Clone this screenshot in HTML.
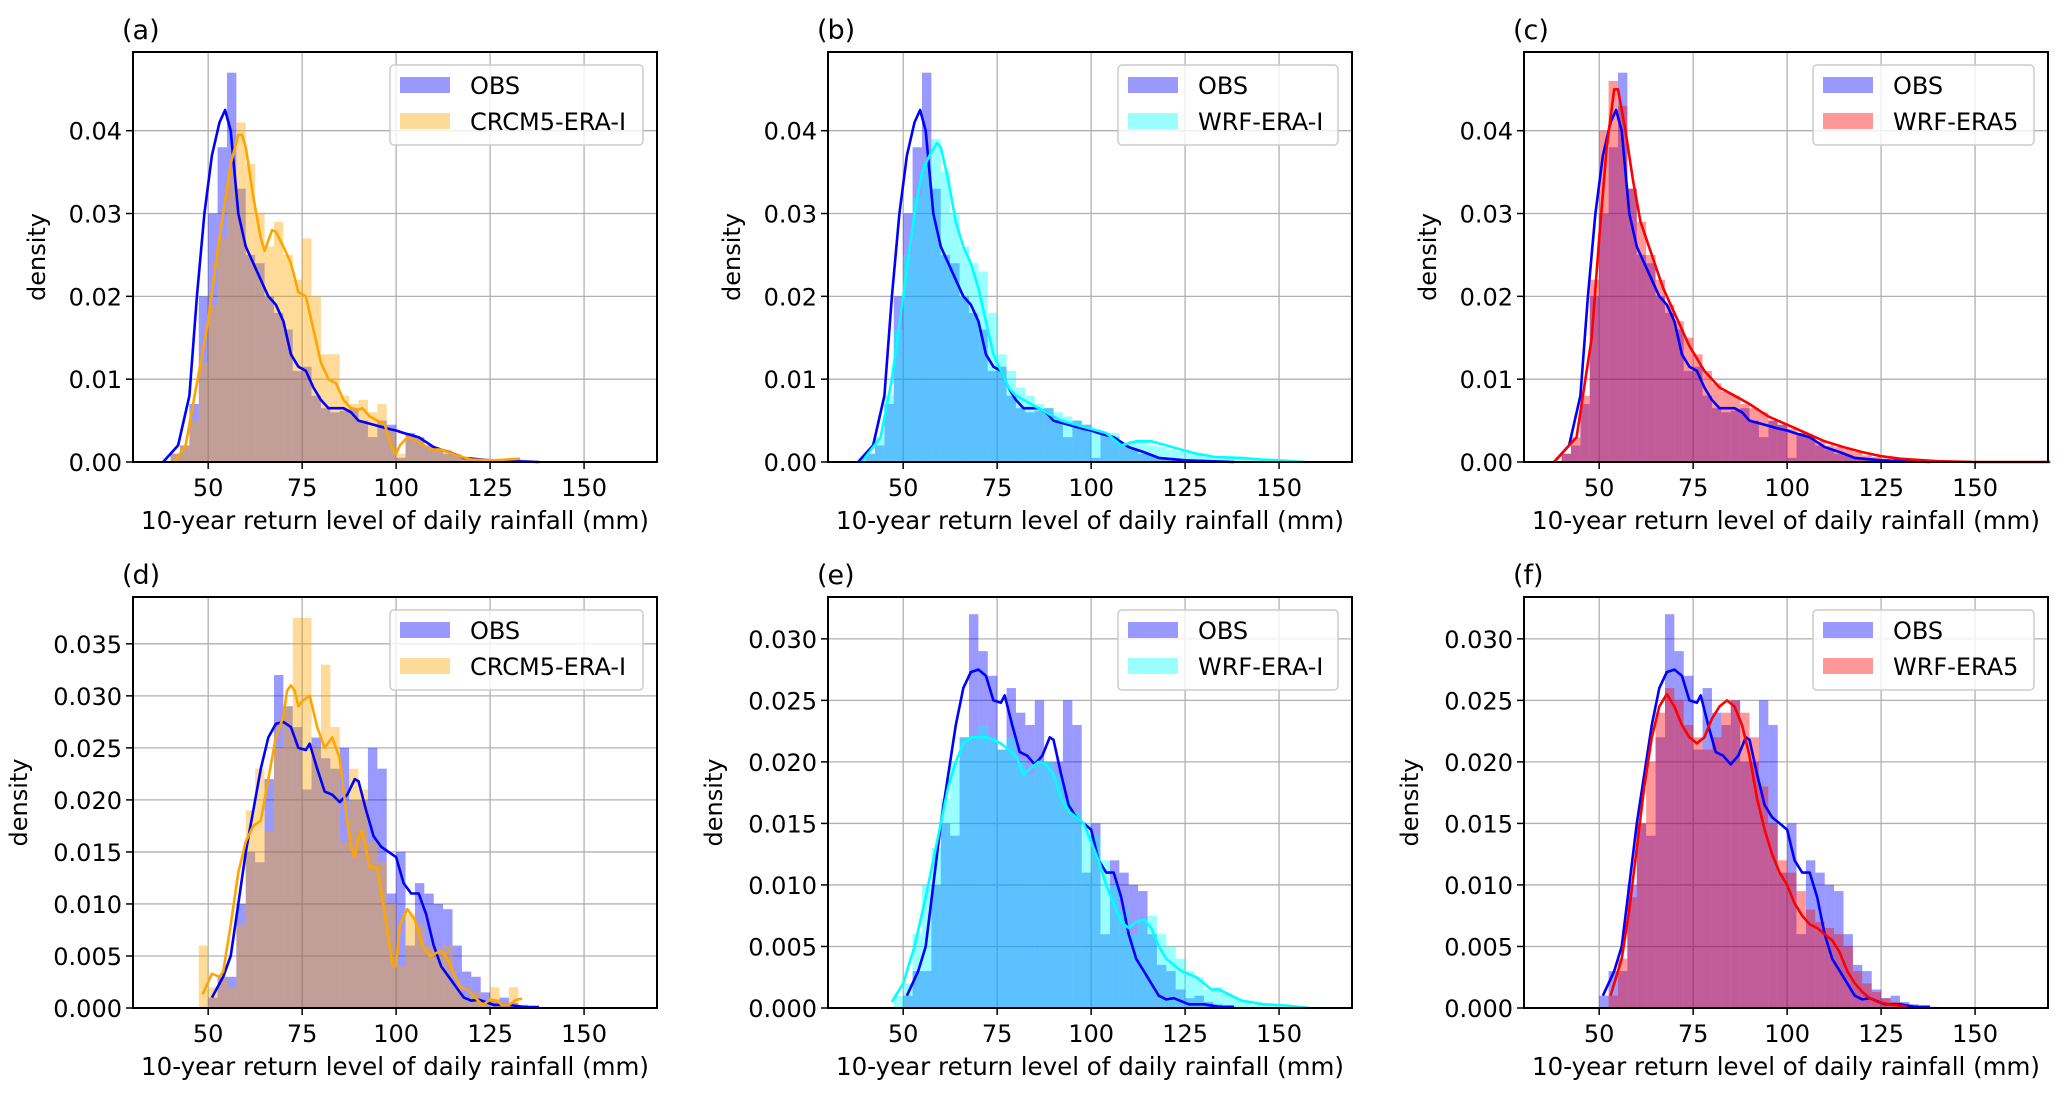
<!DOCTYPE html>
<html><head><meta charset="utf-8"><style>
html,body{margin:0;padding:0;background:#fff;}
svg{display:block;font-family:"DejaVu Sans","Liberation Sans",sans-serif;}
</style></head><body>
<svg id="fig" width="2067" height="1097" viewBox="0 0 2067 1097" xmlns="http://www.w3.org/2000/svg"></svg>
<script>
// ---- data ----
const obsTopKdeX=[38,42,45,47,49,51,53,54.5,56,57,58,60,62,64,66,68,70,72,74,76,78,80,82,86,88,90,94,98,100,102,106,110,114,118,125,138];
const obsTopKdeY=[0,0.002,0.008,0.02,0.03,0.037,0.041,0.0425,0.04,0.035,0.03,0.026,0.024,0.022,0.02,0.019,0.017,0.013,0.0115,0.011,0.009,0.0075,0.0065,0.0065,0.006,0.005,0.0045,0.004,0.0038,0.0035,0.003,0.0018,0.0012,0.0005,0.0002,0];
const obsTopHist=[0.001,0.002,0.007,0.02,0.03,0.038,0.047,0.033,0.025,0.024,0.02,0.018,0.016,0.011,0.0115,0.008,0.0065,0.006,0.0062,0.0065,0.005,0.003,0.005,0.0045,0.0005,0.0035,0.003,0.002,0.0015,0.001,0.0008,0.0005,0.0003,0.0002,0.0002,0.0001,0,0.0001,0.0001];
const crcmTopKdeX=[41,44,46,48,50,52,54,56,58,59,60,62,64,65,67,68,70,72,74,76,78,80,82,84,86,88,90,91,93,95,97,99,100,101,103,106,109,112,116,120,126,133];
const crcmTopKdeY=[0,0.002,0.007,0.012,0.017,0.024,0.03,0.036,0.0395,0.0395,0.038,0.032,0.027,0.0255,0.028,0.0278,0.026,0.024,0.0205,0.02,0.016,0.012,0.01,0.0095,0.0075,0.0065,0.0063,0.0065,0.0055,0.005,0.0045,0.0015,0.001,0.002,0.003,0.0025,0.0015,0.0015,0.0008,0.0003,0.0002,0.0004];
const crcmTopHist=[0.001,0.002,0.005,0.012,0.019,0.027,0.035,0.041,0.036,0.03,0.026,0.029,0.025,0.022,0.027,0.02,0.013,0.013,0.008,0.007,0.0075,0.006,0.007,0.004,0.001,0.003,0.0025,0.0015,0.0015,0.0015,0.001,0.0005,0.0003,0.0002,0.0003,0.0002,0.0001,0.0003,0];
const wrfiTopKdeX=[39,44,47,50,53,55,57,59,60,62,64,66,68,70,72,74,76,78,80,84,88,92,96,100,104,108,112,116,120,124,128,133,140,145,150,157];
const wrfiTopKdeY=[0,0.003,0.01,0.02,0.03,0.035,0.037,0.0385,0.038,0.034,0.029,0.026,0.024,0.021,0.017,0.013,0.011,0.009,0.008,0.007,0.006,0.005,0.0045,0.004,0.0035,0.002,0.0025,0.0025,0.002,0.0015,0.001,0.0006,0.0005,0.0003,0.0002,0];
const wrfiTopHist=[0.001,0.003,0.008,0.016,0.025,0.032,0.036,0.039,0.035,0.03,0.026,0.024,0.023,0.018,0.013,0.011,0.009,0.008,0.007,0.0065,0.006,0.0055,0.005,0.0045,0.004,0.0035,0.0035,0.002,0.0025,0.0025,0.002,0.0018,0.0015,0.0012,0.001,0.0008,0.0006,0.0005,0.0005,0.0004,0.0004,0.0003,0.0002,0.0002,0.0001,0.0001,0.0001,0.0001];
const era5TopKdeX=[38,44,48,50,52,54,55,57,59,61,64,67,70,74,78,82,86,90,95,100,105,110,115,120,125,130,140,150,170];
const era5TopKdeY=[0,0.003,0.015,0.027,0.038,0.045,0.045,0.04,0.034,0.029,0.025,0.021,0.018,0.014,0.011,0.009,0.008,0.007,0.0055,0.0045,0.0035,0.0025,0.0018,0.0012,0.0007,0.0004,0.0001,0,0];
const era5TopHist=[0.001,0.003,0.008,0.022,0.04,0.046,0.043,0.033,0.029,0.025,0.022,0.019,0.017,0.015,0.013,0.011,0.0095,0.0085,0.008,0.007,0.0065,0.006,0.005,0.0045,0.004,0.0035,0.003,0.0025,0.002,0.0018,0.0015,0.0012,0.0008,0.0006,0.0004,0.0003,0.0002,0.0001,0.0001];
const obsBotKdeX=[51,54,56,58,60,62,64,66,68,70,72,74,76,77,79,81,83,85,87,89,90,92,94,96,98,100,102,104,106,108,110,112,114,116,118,120,122,126,130,134,138];
const obsBotKdeY=[0.001,0.003,0.005,0.01,0.015,0.019,0.023,0.026,0.0273,0.0275,0.027,0.025,0.0248,0.0254,0.023,0.0208,0.0205,0.0198,0.0205,0.022,0.0218,0.019,0.0165,0.0155,0.015,0.0145,0.012,0.011,0.011,0.009,0.006,0.004,0.003,0.002,0.001,0.0007,0.0008,0.0003,0.0003,0.0001,0.0001];
const obsBotHist=[0.001,0.003,0.003,0.01,0.015,0.014,0.022,0.032,0.029,0.027,0.021,0.026,0.024,0.023,0.025,0.02,0.02,0.025,0.023,0.011,0.015,0.006,0.012,0.011,0.01,0.0095,0.006,0.0035,0.003,0.0015,0.0008,0.001,0.0005,0.0003,0.0002,0.0001];
const crcmBotKdeX=[48.5,50,51,53,54,56,58,60,62,64,66,68,70,71,72,73,74,75,77,79,81,83,85,87,88,89,90,91,93,95,97,99,100,101,103,105,107,109,112,114,117,119,121,123,125,127,128,130,132,133.5];
const crcmBotKdeY=[0.0013,0.0025,0.0033,0.003,0.0035,0.008,0.013,0.016,0.0175,0.018,0.022,0.026,0.028,0.0305,0.031,0.0305,0.029,0.0295,0.03,0.027,0.025,0.026,0.024,0.018,0.0155,0.0145,0.0165,0.017,0.0135,0.0135,0.009,0.0042,0.004,0.008,0.0095,0.0085,0.006,0.005,0.0055,0.0045,0.002,0.0018,0.001,0.0003,0.0008,0.0007,0.0003,0.0003,0.0008,0.0009];
const crcmBotHist=[0.006,0.002,0.003,0.002,0.008,0.019,0.023,0.017,0.025,0.029,0.0375,0.0375,0.025,0.033,0.027,0.016,0.023,0.021,0.016,0.014,0.01,0.004,0.009,0.008,0.006,0.0055,0.006,0.002,0.001,0.0015,0.0003,0.002,0.0005,0.002,0];
const wrfiBotKdeX=[47,50,53,56,58,60,62,64,66,68,70,72,74,76,78,80,82,84,86,88,90,92,94,96,98,100,102,104,106,108,110,112,114,116,118,120,124,128,132,134,136,140,146,152,158];
const wrfiBotKdeY=[0.0005,0.002,0.005,0.009,0.012,0.015,0.018,0.02,0.0215,0.022,0.022,0.022,0.0218,0.0215,0.021,0.0205,0.019,0.0195,0.02,0.0198,0.019,0.017,0.016,0.0155,0.015,0.0135,0.012,0.01,0.0085,0.007,0.0065,0.007,0.0072,0.0065,0.005,0.004,0.003,0.0025,0.0015,0.0015,0.0012,0.0006,0.0003,0.0002,0];
const wrfiBotHist=[0.001,0.002,0.006,0.01,0.013,0.017,0.02,0.022,0.022,0.023,0.022,0.021,0.022,0.02,0.019,0.02,0.02,0.019,0.017,0.016,0.015,0.014,0.012,0.01,0.008,0.006,0.007,0.0075,0.006,0.005,0.004,0.003,0.0025,0.0015,0.0017,0.0012,0.0008,0.0005,0.0003,0.0002,0.0002,0.0001,0.0001,0.0001,0.0001];
const era5BotKdeX=[53,56,58,60,62,64,66,68,70,72,74,76,78,80,82,84,86,88,90,92,94,96,98,100,102,104,106,108,110,112,114,116,118,120,122,124,127,132];
const era5BotKdeY=[0.001,0.004,0.008,0.013,0.018,0.022,0.0245,0.0255,0.0245,0.023,0.022,0.0215,0.022,0.0235,0.0245,0.025,0.0245,0.023,0.0205,0.017,0.0145,0.0125,0.011,0.01,0.0085,0.0075,0.0068,0.0065,0.006,0.0055,0.0045,0.003,0.002,0.0013,0.0008,0.0005,0.0003,0.0001];
const era5BotHist=[0.001,0.004,0.009,0.015,0.02,0.024,0.026,0.025,0.023,0.022,0.021,0.022,0.024,0.025,0.024,0.022,0.018,0.015,0.012,0.011,0.0095,0.008,0.007,0.0065,0.006,0.005,0.003,0.002,0.0013,0.0008,0.0005,0.0003,0.0001];
const xTicks=[50,75,100,125,150];
const yTicksTop=[0,0.01,0.02,0.03,0.04];
const yTickLabelsTop=["0.00","0.01","0.02","0.03","0.04"];
const yTicksBot=[0,0.005,0.01,0.015,0.02,0.025,0.03,0.035];
const yTickLabelsBot=["0.000","0.005","0.010","0.015","0.020","0.025","0.030","0.035"];

const NS="http://www.w3.org/2000/svg";
const svg=document.getElementById('fig');
function mk(tag,attrs,parent){const e=document.createElementNS(NS,tag);for(const k in attrs)e.setAttribute(k,attrs[k]);(parent||svg).appendChild(e);return e;}

const COLS={obs:['rgba(0,0,255,0.4)','#0000ff'],crcm:['rgba(255,165,0,0.4)','#ffa500'],wrfi:['rgba(0,255,255,0.4)','#00ffff'],era5:['rgba(255,0,0,0.4)','#ff0000']};
const panels=[
 {lab:'(a)',L:133,T:52,B:462,ymax:0.0495,yt:yTicksTop,ytl:yTickLabelsTop,obs:[obsTopHist,40,obsTopKdeX,obsTopKdeY],m:['crcm','CRCM5-ERA-I',crcmTopHist,40,crcmTopKdeX,crcmTopKdeY],leg:[390,643],ylx:45},
 {lab:'(b)',L:828,T:52,B:462,ymax:0.0495,yt:yTicksTop,ytl:yTickLabelsTop,obs:[obsTopHist,40,obsTopKdeX,obsTopKdeY],m:['wrfi','WRF-ERA-I',wrfiTopHist,40,wrfiTopKdeX,wrfiTopKdeY],leg:[1118,1338],ylx:740},
 {lab:'(c)',L:1524,T:52,B:462,ymax:0.0495,yt:yTicksTop,ytl:yTickLabelsTop,obs:[obsTopHist,40,obsTopKdeX,obsTopKdeY],m:['era5','WRF-ERA5',era5TopHist,40,era5TopKdeX,era5TopKdeY],leg:[1813,2034],ylx:1436},
 {lab:'(d)',L:133,T:597,B:1008,ymax:0.0395,yt:yTicksBot,ytl:yTickLabelsBot,obs:[obsBotHist,50,obsBotKdeX,obsBotKdeY],m:['crcm','CRCM5-ERA-I',crcmBotHist,47.5,crcmBotKdeX,crcmBotKdeY],leg:[390,643],ylx:27},
 {lab:'(e)',L:828,T:597,B:1008,ymax:0.0334,yt:yTicksBot.slice(0,7),ytl:yTickLabelsBot,obs:[obsBotHist,50,obsBotKdeX,obsBotKdeY],m:['wrfi','WRF-ERA-I',wrfiBotHist,47.5,wrfiBotKdeX,wrfiBotKdeY],leg:[1118,1338],ylx:722},
 {lab:'(f)',L:1524,T:597,B:1008,ymax:0.0334,yt:yTicksBot.slice(0,7),ytl:yTickLabelsBot,obs:[obsBotHist,50,obsBotKdeX,obsBotKdeY],m:['era5','WRF-ERA5',era5BotHist,52.5,era5BotKdeX,era5BotKdeY],leg:[1813,2034],ylx:1418}
];
const W=524, XMIN=30, XMAX=169.4, BW=2.5;

panels.forEach((p,pi)=>{
  const g=mk('g',{});
  
  
  const sx=v=>p.L+(v-XMIN)/(XMAX-XMIN)*W;
  const sy=v=>p.B-v/p.ymax*(p.B-p.T);
  xTicks.forEach(t=>{const l=mk('line',{x1:sx(t),x2:sx(t),y1:p.T,y2:p.B,stroke:'#b0b0b0','stroke-width':1.3},g);
    });
  p.yt.forEach(t=>{const l=mk('line',{x1:p.L,x2:p.L+W,y1:sy(t),y2:sy(t),stroke:'#b0b0b0','stroke-width':1.3},g);
    });
  const drawHist=(h,start,fill,name)=>{h.forEach((v,i)=>{if(v<=0)return;const x0=sx(start+i*BW),x1=sx(start+(i+1)*BW);
    const r=mk('rect',{x:x0,y:sy(v),width:x1-x0,height:p.B-sy(v),fill:fill},g);
    });};
  drawHist(p.obs[0],p.obs[1],COLS.obs[0],'obs-hist');
  drawHist(p.m[2],p.m[3],COLS[p.m[0]][0],p.m[0]+'-hist');
  const drawLine=(xs,ys,col,name)=>{const d=xs.map((x,i)=>(i?'L':'M')+sx(x).toFixed(1)+','+sy(ys[i]).toFixed(1)).join(' ');
    const pa=mk('path',{d:d,fill:'none',stroke:col,'stroke-width':2.6,'stroke-linejoin':'round'},g);
    };
  drawLine(p.obs[2],p.obs[3],COLS.obs[1],'obs');
  drawLine(p.m[4],p.m[5],COLS[p.m[0]][1],p.m[0]);
  const fr=mk('rect',{x:p.L,y:p.T,width:W,height:p.B-p.T,fill:'none',stroke:'#000','stroke-width':2},g);
  
  xTicks.forEach(t=>{mk('line',{x1:sx(t),x2:sx(t),y1:p.B,y2:p.B+7,stroke:'#000','stroke-width':1.5},g);
    const tx=mk('text',{x:sx(t),y:p.B+34,'font-size':24,'text-anchor':'middle',fill:'#000'},g);tx.textContent=t;
    });
  p.yt.forEach((t,i)=>{mk('line',{x1:p.L-7,x2:p.L,y1:sy(t),y2:sy(t),stroke:'#000','stroke-width':1.5},g);
    const tx=mk('text',{x:p.L-11,y:sy(t)+9,'font-size':24,'text-anchor':'end',fill:'#000'},g);tx.textContent=p.ytl[i];
    });
  const xl=mk('text',{x:p.L+W/2,y:p.B+67,'font-size':24.5,'text-anchor':'middle',fill:'#000'},g);
  xl.textContent='10-year return level of daily rainfall (mm)';
  
  const yc=(p.T+p.B)/2;
  const yl=mk('text',{x:p.ylx,y:yc,'font-size':24,'text-anchor':'middle',fill:'#000',transform:'rotate(-90 '+p.ylx+' '+yc+')'},g);
  yl.textContent='density';
  
  const pl=mk('text',{x:p.L-11,y:p.T-13,'font-size':27,fill:'#000'},g);pl.textContent=p.lab;
  
  const lg=mk('g',{},g);
  
  const lt=p.T+13, lx=p.leg[0];
  mk('rect',{x:lx,y:lt,width:p.leg[1]-lx,height:80,rx:4,fill:'rgba(255,255,255,0.8)',stroke:'#cccccc','stroke-width':1.5},lg);
  [[COLS.obs[0],'OBS'],[COLS[p.m[0]][0],p.m[1]]].forEach((e,i)=>{
    const eg=mk('g',{},lg);
    
    mk('rect',{x:lx+10,y:lt+12+i*36,width:50,height:16,fill:e[0]},eg);
    const t=mk('text',{x:lx+80,y:lt+29+i*36,'font-size':24,fill:'#000'},eg);t.textContent=e[1];
  });
});
</script>
</body></html>
